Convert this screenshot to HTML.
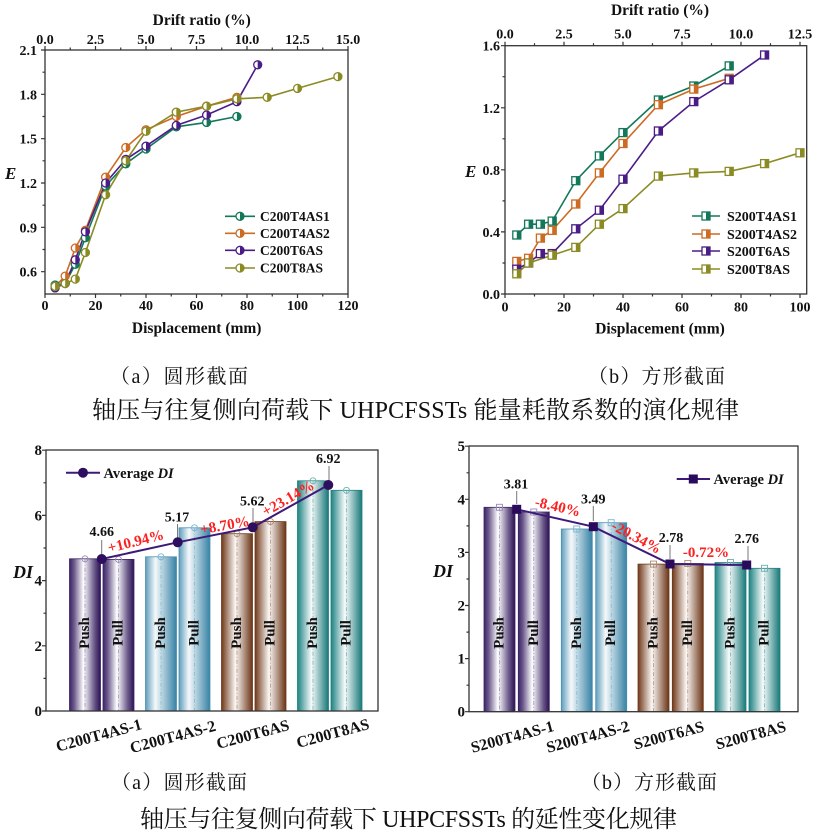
<!DOCTYPE html>
<html><head><meta charset="utf-8"><style>
html,body{margin:0;padding:0;background:#fff}
svg{display:block}
.t{font-family:"Liberation Serif",serif;font-weight:bold;fill:#111}
.cj{font-family:"Liberation Serif","Noto Serif CJK SC",serif;fill:#111}
</style></head><body>
<svg width="822" height="832" viewBox="0 0 822 832" xmlns="http://www.w3.org/2000/svg">
<defs>
<symbol id="hc" overflow="visible"><circle r="4" fill="#fff" stroke="currentColor" stroke-width="1.3"/><path d="M0,-4A4,4 0 0 1 0,4Z" fill="currentColor"/></symbol>
<symbol id="hs" overflow="visible"><rect x="-4" y="-4" width="8" height="8" fill="#fff" stroke="currentColor" stroke-width="1.3"/><rect x="0" y="-4" width="4" height="8" fill="currentColor"/></symbol>
<linearGradient id="gP" x1="0" x2="1" y1="0" y2="0"><stop offset="0" stop-color="#3b2365"/><stop offset="0.15" stop-color="#6c5a8c"/><stop offset="0.45" stop-color="#ffffff"/><stop offset="0.8" stop-color="#6b5a8a"/><stop offset="1" stop-color="#2c1152"/></linearGradient>
<linearGradient id="gB" x1="0" x2="1" y1="0" y2="0"><stop offset="0" stop-color="#5e9dbc"/><stop offset="0.32" stop-color="#f5f9fb"/><stop offset="1" stop-color="#3782a5"/></linearGradient>
<linearGradient id="gR" x1="0" x2="1" y1="0" y2="0"><stop offset="0" stop-color="#70391a"/><stop offset="0.45" stop-color="#fbf8f6"/><stop offset="1" stop-color="#6a3416"/></linearGradient>
<linearGradient id="gT" x1="0" x2="1" y1="0" y2="0"><stop offset="0" stop-color="#1e8282"/><stop offset="0.45" stop-color="#f8fbfb"/><stop offset="1" stop-color="#177878"/></linearGradient>
</defs>

<!-- ========== TOP LEFT ========== -->
<rect x="45" y="50" width="303" height="244" fill="none" stroke="#333" stroke-width="1.3"/>
<path stroke="#333" stroke-width="1.2" fill="none" d="M45,294v4M95.5,294v4M146,294v4M196.5,294v4M247,294v4M297.5,294v4M348,294v4M70.25,294v2.5M120.75,294v2.5M171.25,294v2.5M221.75,294v2.5M272.25,294v2.5M322.75,294v2.5M45,50v-4M95.5,50v-4M146,50v-4M196.5,50v-4M247,50v-4M297.5,50v-4M348,50v-4M70.25,50v-2.5M120.75,50v-2.5M171.25,50v-2.5M221.75,50v-2.5M272.25,50v-2.5M322.75,50v-2.5M45,271.7h-4M45,227.3h-4M45,183h-4M45,138.7h-4M45,94.3h-4M45,50h-4M45,249.5h-2.5M45,205.2h-2.5M45,160.8h-2.5M45,116.5h-2.5M45,72.2h-2.5"/>
<g class="t" font-size="14" text-anchor="middle">
<text x="45" y="310">0</text><text x="95.5" y="310">20</text><text x="146" y="310">40</text><text x="196.5" y="310">60</text><text x="247" y="310">80</text><text x="297.5" y="310">100</text><text x="348" y="310">120</text>
<text x="45" y="44">0.0</text><text x="95.5" y="44">2.5</text><text x="146" y="44">5.0</text><text x="196.5" y="44">7.5</text><text x="247" y="44">10.0</text><text x="297.5" y="44">12.5</text><text x="348" y="44">15.0</text>
</g>
<g class="t" font-size="14" text-anchor="end">
<text x="37" y="276.7">0.6</text><text x="37" y="232.3">0.9</text><text x="37" y="188">1.2</text><text x="37" y="143.7">1.5</text><text x="37" y="99.3">1.8</text><text x="37" y="55">2.1</text>
</g>
<text class="t" font-size="15.5" x="201.7" y="25" text-anchor="middle">Drift ratio (%)</text>
<text class="t" font-size="15.5" x="196.7" y="333" text-anchor="middle">Displacement (mm)</text>
<text class="t" font-size="17" font-style="italic" x="5" y="179">E</text>

<g fill="none" stroke-width="1.6">
<polyline stroke="#13785a" points="55.1,285 65.2,283.5 75.3,264.3 85.4,237.7 105.6,186 125.8,163.8 146,149 176.3,126.8 206.6,122.4 236.9,116.5"/>
<polyline stroke="#cc6b24" points="55.1,286.4 65.2,276.1 75.3,248 85.4,230.3 105.6,177.1 125.8,147.5 146,129.8 176.3,116.5 206.6,106.2 236.9,97.3"/>
<polyline stroke="#4a1d86" points="55.1,287.9 65.2,283.5 75.3,259.8 85.4,231.8 105.6,183 125.8,159.4 146,146.1 176.3,125.4 206.6,115 236.9,101.7 257.7,64.8"/>
<polyline stroke="#8b8b24" points="55.1,286.4 65.2,283.5 75.3,279.1 85.4,252.5 105.6,194.8 125.8,160.8 146,131.3 176.3,112.1 206.6,106.2 236.9,98.8 267.2,97.3 297.5,88.4 337.9,76.6"/>
</g>
<g color="#13785a"><use href="#hc" x="55.1" y="285"/><use href="#hc" x="65.2" y="283.5"/><use href="#hc" x="75.3" y="264.3"/><use href="#hc" x="85.4" y="237.7"/><use href="#hc" x="105.6" y="186"/><use href="#hc" x="125.8" y="163.8"/><use href="#hc" x="146" y="149"/><use href="#hc" x="176.3" y="126.8"/><use href="#hc" x="206.6" y="122.4"/><use href="#hc" x="236.9" y="116.5"/></g>
<g color="#cc6b24"><use href="#hc" x="55.1" y="286.4"/><use href="#hc" x="65.2" y="276.1"/><use href="#hc" x="75.3" y="248"/><use href="#hc" x="85.4" y="230.3"/><use href="#hc" x="105.6" y="177.1"/><use href="#hc" x="125.8" y="147.5"/><use href="#hc" x="146" y="129.8"/><use href="#hc" x="176.3" y="116.5"/><use href="#hc" x="206.6" y="106.2"/><use href="#hc" x="236.9" y="97.3"/></g>
<g color="#4a1d86"><use href="#hc" x="55.1" y="287.9"/><use href="#hc" x="65.2" y="283.5"/><use href="#hc" x="75.3" y="259.8"/><use href="#hc" x="85.4" y="231.8"/><use href="#hc" x="105.6" y="183"/><use href="#hc" x="125.8" y="159.4"/><use href="#hc" x="146" y="146.1"/><use href="#hc" x="176.3" y="125.4"/><use href="#hc" x="206.6" y="115"/><use href="#hc" x="236.9" y="101.7"/><use href="#hc" x="257.7" y="64.8"/></g>
<g color="#8b8b24"><use href="#hc" x="55.1" y="286.4"/><use href="#hc" x="65.2" y="283.5"/><use href="#hc" x="75.3" y="279.1"/><use href="#hc" x="85.4" y="252.5"/><use href="#hc" x="105.6" y="194.8"/><use href="#hc" x="125.8" y="160.8"/><use href="#hc" x="146" y="131.3"/><use href="#hc" x="176.3" y="112.1"/><use href="#hc" x="206.6" y="106.2"/><use href="#hc" x="236.9" y="98.8"/><use href="#hc" x="267.2" y="97.3"/><use href="#hc" x="297.5" y="88.4"/><use href="#hc" x="337.9" y="76.6"/></g>
<!-- legend TL -->
<g stroke-width="1.6">
<line x1="225" y1="216.3" x2="255" y2="216.3" stroke="#13785a"/><line x1="225" y1="233.3" x2="255" y2="233.3" stroke="#cc6b24"/><line x1="225" y1="250.3" x2="255" y2="250.3" stroke="#4a1d86"/><line x1="225" y1="268" x2="255" y2="268" stroke="#8b8b24"/>
</g>
<use href="#hc" x="240" y="216.3" color="#13785a"/><use href="#hc" x="240" y="233.3" color="#cc6b24"/><use href="#hc" x="240" y="250.3" color="#4a1d86"/><use href="#hc" x="240" y="268" color="#8b8b24"/>
<g class="t" font-size="13.5"><text x="260" y="221">C200T4AS1</text><text x="260" y="238">C200T4AS2</text><text x="260" y="255">C200T6AS</text><text x="260" y="272.7">C200T8AS</text></g>

<!-- ========== TOP RIGHT ========== -->
<rect x="505" y="45.7" width="301.7" height="248.3" fill="none" stroke="#333" stroke-width="1.3"/>
<path stroke="#333" stroke-width="1.2" fill="none" d="M505,294v4M564,294v4M623,294v4M682,294v4M741,294v4M800,294v4M534.5,294v2.5M593.5,294v2.5M652.5,294v2.5M711.5,294v2.5M770.5,294v2.5M505,45.7v-4M564,45.7v-4M623,45.7v-4M682,45.7v-4M741,45.7v-4M800,45.7v-4M534.5,45.7v-2.5M593.5,45.7v-2.5M652.5,45.7v-2.5M711.5,45.7v-2.5M770.5,45.7v-2.5M505,294h-4M505,231.9h-4M505,169.8h-4M505,107.8h-4M505,45.7h-4M505,263h-2.5M505,200.9h-2.5M505,138.8h-2.5M505,76.7h-2.5"/>
<g class="t" font-size="14" text-anchor="middle">
<text x="505" y="311.5">0</text><text x="564" y="311.5">20</text><text x="623" y="311.5">40</text><text x="682" y="311.5">60</text><text x="741" y="311.5">80</text><text x="800" y="311.5">100</text>
<text x="505" y="38.5">0.0</text><text x="564" y="38.5">2.5</text><text x="623" y="38.5">5.0</text><text x="682" y="38.5">7.5</text><text x="741" y="38.5">10.0</text><text x="800" y="38.5">12.5</text>
</g>
<g class="t" font-size="14" text-anchor="end">
<text x="500" y="299">0.0</text><text x="500" y="236.9">0.4</text><text x="500" y="174.8">0.8</text><text x="500" y="112.8">1.2</text><text x="500" y="50.7">1.6</text>
</g>
<text class="t" font-size="15.5" x="660" y="15" text-anchor="middle">Drift ratio (%)</text>
<text class="t" font-size="15.5" x="660" y="333.5" text-anchor="middle">Displacement (mm)</text>
<text class="t" font-size="17" font-style="italic" x="465" y="177">E</text>

<g fill="none" stroke-width="1.6">
<polyline stroke="#13785a" points="516.8,235 528.6,224.2 540.4,224.2 552.2,221.1 575.8,180.7 599.4,155.9 623,132.6 658.4,100 693.8,86 729.2,65.9"/>
<polyline stroke="#cc6b24" points="516.8,261.4 528.6,258.3 540.4,238.1 552.2,230.4 575.8,204 599.4,172.9 623,143.5 658.4,104.7 693.8,89.1 729.2,78.3"/>
<polyline stroke="#4a1d86" points="516.8,269.2 528.6,263 540.4,253.6 552.2,253.6 575.8,228.8 599.4,210.2 623,179.2 658.4,131 693.8,101.6 729.2,79.8 764.6,55"/>
<polyline stroke="#8b8b24" points="516.8,273.8 528.6,263 552.2,255.2 575.8,247.4 599.4,224.2 623,208.6 658.4,176.1 693.8,172.9 729.2,171.4 764.6,163.6 800,152.8"/>
</g>
<g color="#13785a"><use href="#hs" x="516.8" y="235"/><use href="#hs" x="528.6" y="224.2"/><use href="#hs" x="540.4" y="224.2"/><use href="#hs" x="552.2" y="221.1"/><use href="#hs" x="575.8" y="180.7"/><use href="#hs" x="599.4" y="155.9"/><use href="#hs" x="623" y="132.6"/><use href="#hs" x="658.4" y="100"/><use href="#hs" x="693.8" y="86"/><use href="#hs" x="729.2" y="65.9"/></g>
<g color="#cc6b24"><use href="#hs" x="516.8" y="261.4"/><use href="#hs" x="528.6" y="258.3"/><use href="#hs" x="540.4" y="238.1"/><use href="#hs" x="552.2" y="230.4"/><use href="#hs" x="575.8" y="204"/><use href="#hs" x="599.4" y="172.9"/><use href="#hs" x="623" y="143.5"/><use href="#hs" x="658.4" y="104.7"/><use href="#hs" x="693.8" y="89.1"/><use href="#hs" x="729.2" y="78.3"/></g>
<g color="#4a1d86"><use href="#hs" x="516.8" y="269.2"/><use href="#hs" x="528.6" y="263"/><use href="#hs" x="540.4" y="253.6"/><use href="#hs" x="552.2" y="253.6"/><use href="#hs" x="575.8" y="228.8"/><use href="#hs" x="599.4" y="210.2"/><use href="#hs" x="623" y="179.2"/><use href="#hs" x="658.4" y="131"/><use href="#hs" x="693.8" y="101.6"/><use href="#hs" x="729.2" y="79.8"/><use href="#hs" x="764.6" y="55"/></g>
<g color="#8b8b24"><use href="#hs" x="516.8" y="273.8"/><use href="#hs" x="528.6" y="263"/><use href="#hs" x="552.2" y="255.2"/><use href="#hs" x="575.8" y="247.4"/><use href="#hs" x="599.4" y="224.2"/><use href="#hs" x="623" y="208.6"/><use href="#hs" x="658.4" y="176.1"/><use href="#hs" x="693.8" y="172.9"/><use href="#hs" x="729.2" y="171.4"/><use href="#hs" x="764.6" y="163.6"/><use href="#hs" x="800" y="152.8"/></g>
<g stroke-width="1.6">
<line x1="692" y1="216" x2="720" y2="216" stroke="#13785a"/><line x1="692" y1="234" x2="720" y2="234" stroke="#cc6b24"/><line x1="692" y1="251" x2="720" y2="251" stroke="#4a1d86"/><line x1="692" y1="269" x2="720" y2="269" stroke="#8b8b24"/>
</g>
<use href="#hs" x="706" y="216" color="#13785a"/><use href="#hs" x="706" y="234" color="#cc6b24"/><use href="#hs" x="706" y="251" color="#4a1d86"/><use href="#hs" x="706" y="269" color="#8b8b24"/>
<g class="t" font-size="14"><text x="727" y="221">S200T4AS1</text><text x="727" y="239">S200T4AS2</text><text x="727" y="256">S200T6AS</text><text x="727" y="274">S200T8AS</text></g>

<!-- captions top -->
<text class="cj" font-size="20" x="110" y="383" textLength="138">（a）圆形截面</text>
<text class="cj" font-size="20" x="588" y="383" textLength="137">（b）方形截面</text>
<text class="cj" font-size="24" x="92" y="418" textLength="647">轴压与往复侧向荷载下 UHPCFSSTs 能量耗散系数的演化规律</text>

<!-- ========== BOTTOM LEFT ========== -->
<g stroke-width="0.8">
<rect x="69.5" y="558.8" width="31" height="152.2" fill="url(#gP)" stroke="#3b2365"/>
<rect x="103" y="559.4" width="31" height="151.6" fill="url(#gP)" stroke="#3b2365"/>
<rect x="145.5" y="556.8" width="31" height="154.2" fill="url(#gB)" stroke="#4a90b0"/>
<rect x="179" y="527.8" width="31" height="183.2" fill="url(#gB)" stroke="#4a90b0"/>
<rect x="221.5" y="533.7" width="31" height="177.3" fill="url(#gR)" stroke="#6e3a1c"/>
<rect x="255" y="521.6" width="31" height="189.4" fill="url(#gR)" stroke="#6e3a1c"/>
<rect x="297.5" y="480.8" width="31" height="230.2" fill="url(#gT)" stroke="#1e8080"/>
<rect x="331" y="490.3" width="31" height="220.7" fill="url(#gT)" stroke="#1e8080"/>
</g>
<g stroke-width="0.7" stroke-dasharray="4 2 1 2" fill="none">
<path stroke="#9a8ab8" d="M85,558.8V711M118.5,559.4V711"/>
<path stroke="#7ab4d0" d="M161,556.8V711M194.5,527.8V711"/>
<path stroke="#b08a70" d="M237,533.7V711M270.5,521.6V711"/>
<path stroke="#6ab0b0" d="M313,480.8V711M346.5,490.3V711"/>
</g>
<g fill="none" stroke-width="0.9">
<circle cx="85" cy="558.8" r="3" stroke="#9a8ab8"/><circle cx="118.5" cy="559.4" r="3" stroke="#9a8ab8"/>
<circle cx="161" cy="556.8" r="3" stroke="#7ab4d0"/><circle cx="194.5" cy="527.8" r="3" stroke="#7ab4d0"/>
<circle cx="237" cy="533.7" r="3" stroke="#b08a70"/><circle cx="270.5" cy="521.6" r="3" stroke="#b08a70"/>
<circle cx="313" cy="480.8" r="3" stroke="#6ab0b0"/><circle cx="346.5" cy="490.3" r="3" stroke="#6ab0b0"/>
</g>
<g class="t" font-size="15">
<text transform="translate(85,633) rotate(-90)" text-anchor="middle" dominant-baseline="central">Push</text>
<text transform="translate(118.5,633) rotate(-90)" text-anchor="middle" dominant-baseline="central">Pull</text>
<text transform="translate(161,633) rotate(-90)" text-anchor="middle" dominant-baseline="central">Push</text>
<text transform="translate(194.5,633) rotate(-90)" text-anchor="middle" dominant-baseline="central">Pull</text>
<text transform="translate(237,633) rotate(-90)" text-anchor="middle" dominant-baseline="central">Push</text>
<text transform="translate(270.5,633) rotate(-90)" text-anchor="middle" dominant-baseline="central">Pull</text>
<text transform="translate(313,633) rotate(-90)" text-anchor="middle" dominant-baseline="central">Push</text>
<text transform="translate(346.5,633) rotate(-90)" text-anchor="middle" dominant-baseline="central">Pull</text>
</g>
<rect x="46" y="450" width="332" height="261" fill="none" stroke="#333" stroke-width="1.3"/>
<path stroke="#333" stroke-width="1.2" d="M46,711h-4M46,645.8h-4M46,580.6h-4M46,515.4h-4M46,450.2h-4M46,678.4h-2.5M46,613.2h-2.5M46,548h-2.5M46,482.8h-2.5"/>
<g class="t" font-size="15" text-anchor="end"><text x="42" y="716">0</text><text x="42" y="650.8">2</text><text x="42" y="585.6">4</text><text x="42" y="520.4">6</text><text x="42" y="455.2">8</text></g>
<text class="t" font-size="18" font-style="italic" x="13" y="578">DI</text>
<g stroke="#777" stroke-width="1"><path d="M101.7,540V555M177.5,524V538M253,508V523M329,466V481"/></g>
<polyline fill="none" stroke="#3d1a78" stroke-width="2" points="101.7,559 177.7,542.3 252.7,527.3 328.3,485"/>
<g fill="#2e0e5e"><circle cx="101.7" cy="559" r="5"/><circle cx="177.7" cy="542.3" r="5"/><circle cx="252.7" cy="527.3" r="5"/><circle cx="328.3" cy="485" r="5"/></g>
<g class="t" font-size="14" text-anchor="middle"><text x="101.7" y="536">4.66</text><text x="177" y="521.5">5.17</text><text x="252.3" y="505.5">5.62</text><text x="328.3" y="463">6.92</text></g>
<g class="t" font-size="15" style="fill:#ff1f1f" text-anchor="middle" dominant-baseline="central">
<text transform="translate(136,542) rotate(-14)">+10.94%</text>
<text transform="translate(225,526) rotate(-10)">+8.70%</text>
<text transform="translate(288.5,499) rotate(-30)">+23.14%</text>
</g>
<line x1="66" y1="472.7" x2="100" y2="472.7" stroke="#3d1a78" stroke-width="2"/>
<circle cx="83" cy="472.7" r="5" fill="#2e0e5e"/>
<text class="t" font-size="14.5" x="103.5" y="478">Average <tspan font-style="italic">DI</tspan></text>
<g class="t" font-size="16" text-anchor="middle" dominant-baseline="central">
<text transform="translate(99,736) rotate(-15)">C200T4AS-1</text>
<text transform="translate(173,737.5) rotate(-15)">C200T4AS-2</text>
<text transform="translate(253,735) rotate(-15)">C200T6AS</text>
<text transform="translate(333,734) rotate(-15)">C200T8AS</text>
</g>

<!-- ========== BOTTOM RIGHT ========== -->
<g stroke-width="0.8">
<rect x="484" y="507.3" width="31" height="204.4" fill="url(#gP)" stroke="#3b2365"/>
<rect x="518.3" y="512" width="31" height="199.7" fill="url(#gP)" stroke="#3b2365"/>
<rect x="561.3" y="529" width="31" height="182.7" fill="url(#gB)" stroke="#4a90b0"/>
<rect x="595.7" y="522.7" width="31" height="189" fill="url(#gB)" stroke="#4a90b0"/>
<rect x="638" y="564.1" width="31" height="147.6" fill="url(#gR)" stroke="#6e3a1c"/>
<rect x="672.3" y="563.5" width="31" height="148.2" fill="url(#gR)" stroke="#6e3a1c"/>
<rect x="715" y="562.5" width="31" height="149.2" fill="url(#gT)" stroke="#1e8080"/>
<rect x="749" y="568.3" width="31" height="143.4" fill="url(#gT)" stroke="#1e8080"/>
</g>
<g stroke-width="0.7" stroke-dasharray="4 2 1 2" fill="none">
<path stroke="#9a8ab8" d="M499.5,507.3V711.7M533.8,512V711.7"/>
<path stroke="#7ab4d0" d="M576.8,529V711.7M611.2,522.7V711.7"/>
<path stroke="#b08a70" d="M653.5,564.1V711.7M687.8,563.5V711.7"/>
<path stroke="#6ab0b0" d="M730.5,562.5V711.7M764.5,568.3V711.7"/>
</g>
<g fill="none" stroke-width="0.9">
<rect x="496.5" y="504.3" width="6" height="6" stroke="#9a8ab8"/><rect x="530.8" y="509" width="6" height="6" stroke="#9a8ab8"/>
<rect x="573.8" y="526" width="6" height="6" stroke="#7ab4d0"/><rect x="608.2" y="519.7" width="6" height="6" stroke="#7ab4d0"/>
<rect x="650.5" y="561.1" width="6" height="6" stroke="#b08a70"/><rect x="684.8" y="560.5" width="6" height="6" stroke="#b08a70"/>
<rect x="727.5" y="559.5" width="6" height="6" stroke="#6ab0b0"/><rect x="761.5" y="565.3" width="6" height="6" stroke="#6ab0b0"/>
</g>
<g class="t" font-size="15">
<text transform="translate(499.5,633) rotate(-90)" text-anchor="middle" dominant-baseline="central">Push</text>
<text transform="translate(533.8,633) rotate(-90)" text-anchor="middle" dominant-baseline="central">Pull</text>
<text transform="translate(576.8,633) rotate(-90)" text-anchor="middle" dominant-baseline="central">Push</text>
<text transform="translate(611.2,633) rotate(-90)" text-anchor="middle" dominant-baseline="central">Pull</text>
<text transform="translate(653.5,633) rotate(-90)" text-anchor="middle" dominant-baseline="central">Push</text>
<text transform="translate(687.8,633) rotate(-90)" text-anchor="middle" dominant-baseline="central">Pull</text>
<text transform="translate(730.5,633) rotate(-90)" text-anchor="middle" dominant-baseline="central">Push</text>
<text transform="translate(764.5,633) rotate(-90)" text-anchor="middle" dominant-baseline="central">Pull</text>
</g>
<rect x="469" y="446" width="329" height="265.7" fill="none" stroke="#333" stroke-width="1.3"/>
<path stroke="#333" stroke-width="1.2" d="M469,711.7h-4M469,658.6h-4M469,605.5h-4M469,552.4h-4M469,499.3h-4M469,446.2h-4M469,685.2h-2.5M469,632.1h-2.5M469,579h-2.5M469,525.9h-2.5M469,472.8h-2.5"/>
<g class="t" font-size="15" text-anchor="end"><text x="465" y="716.7">0</text><text x="465" y="663.6">1</text><text x="465" y="610.5">2</text><text x="465" y="557.4">3</text><text x="465" y="504.3">4</text><text x="465" y="451.2">5</text></g>
<text class="t" font-size="18" font-style="italic" x="433" y="577">DI</text>
<g stroke="#777" stroke-width="1"><path d="M516.7,491V504M593.3,506V521M670,545V559M748,546V560"/></g>
<polyline fill="none" stroke="#3d1a78" stroke-width="2" points="516.7,509.3 593.3,526.7 670,564 746.7,565"/>
<g fill="#2a0a5a"><rect x="512.2" y="504.8" width="9" height="9"/><rect x="588.8" y="522.2" width="9" height="9"/><rect x="665.5" y="559.5" width="9" height="9"/><rect x="742.2" y="560.5" width="9" height="9"/></g>
<g class="t" font-size="14" text-anchor="middle"><text x="516" y="488.5">3.81</text><text x="593.3" y="503.5">3.49</text><text x="671" y="542">2.78</text><text x="746.7" y="543">2.76</text></g>
<g class="t" font-size="15" style="fill:#ff1f1f" text-anchor="middle" dominant-baseline="central">
<text transform="translate(557.5,507.5) rotate(13)">-8.40%</text>
<text transform="translate(636,538) rotate(28)">-20.34%</text>
<text transform="translate(706,553)">-0.72%</text>
</g>
<line x1="676.7" y1="479" x2="710" y2="479" stroke="#3d1a78" stroke-width="2"/>
<rect x="688.8" y="474.5" width="9" height="9" fill="#2a0a5a"/>
<text class="t" font-size="14.5" x="713.5" y="484">Average <tspan font-style="italic">DI</tspan></text>
<g class="t" font-size="16" text-anchor="middle" dominant-baseline="central">
<text transform="translate(512.5,737.5) rotate(-15)">S200T4AS-1</text>
<text transform="translate(588,737.5) rotate(-15)">S200T4AS-2</text>
<text transform="translate(669,736) rotate(-15)">S200T6AS</text>
<text transform="translate(751,736) rotate(-15)">S200T8AS</text>
</g>

<!-- captions bottom -->
<text class="cj" font-size="20" x="111" y="789" textLength="136">（a）圆形截面</text>
<text class="cj" font-size="20" x="581" y="789" textLength="136">（b）方形截面</text>
<text class="cj" font-size="24" x="140" y="827" textLength="537">轴压与往复侧向荷载下 UHPCFSSTs 的延性变化规律</text>
</svg>
</body></html>
